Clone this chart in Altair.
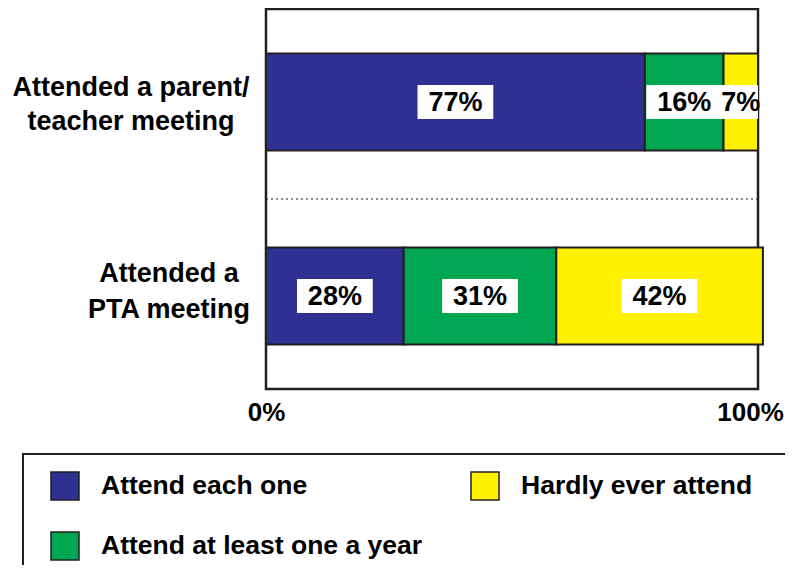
import altair as alt
import pandas as pd

# ---- data ----
questions = ["Attended a parent/\nteacher meeting", "Attended a\nPTA meeting"]
categories = ["Attend each one", "Attend at least one a year", "Hardly ever attend"]
parent_teacher = [77, 16, 7]
pta = [28, 31, 42]
ticks = [0, 100]
colors = {"Attend each one": "#2e3192",
          "Attend at least one a year": "#00a651",
          "Hardly ever attend": "#fff200"}

rows = []
for q, vals in zip(questions, [parent_teacher, pta]):
    for k, (c, v) in enumerate(zip(categories, vals)):
        rows.append({"q": q, "cat": c, "k": k, "v": v})
df = pd.DataFrame(rows)

W, H = 492, 380
FONT = "Liberation Sans"
INK = "#231f20"
HALF_BOX = 7.7  # half width of label boxes, in percent units

yenc = alt.Y("q:N", sort=questions, axis=None,
             scale=alt.Scale(paddingInner=0.5, paddingOuter=0.23))

base = alt.Chart(df).transform_stack(
    stack="v", groupby=["q"], as_=["x0", "x1"], sort=[alt.SortField("k")]
).transform_calculate(
    mid="(datum.x0 + datum.x1) / 2",
    b0="(datum.x0 + datum.x1) / 2 - %f" % HALF_BOX,
    b1="(datum.x0 + datum.x1) / 2 + %f" % HALF_BOX,
    lab="datum.v + '%'",
)

xscale = alt.Scale(domain=[0, 100], nice=False, zero=True)

bars = base.mark_bar(stroke=INK, strokeWidth=2).encode(
    x=alt.X("x0:Q", scale=xscale,
            axis=alt.Axis(values=ticks, labelExpr="datum.value + '%'", title=None,
                          ticks=False, domain=False, grid=False, labelFlush=False,
                          labelAlign="center",
                          labelOffset={"condition": {"test": "datum.value == 100", "value": -8},
                                       "value": 0},
                          labelFont=FONT, labelFontSize=26, labelFontWeight="bold",
                          labelColor="black", labelPadding=10)),
    x2="x1:Q",
    y=yenc,
    color=alt.Color("cat:N",
                    scale=alt.Scale(domain=categories,
                                    range=[colors[c] for c in categories]),
                    legend=alt.Legend(title=None, orient="none", legendX=-216, legendY=462,
                                      columns=2, columnPadding=45, rowPadding=26,
                                      symbolType="square", symbolSize=784,
                                      symbolStrokeColor=INK, symbolStrokeWidth=1.5,
                                      symbolOpacity=1, labelOffset=21,
                                      labelFont=FONT, labelFontSize=26.5,
                                      labelFontWeight="bold", labelColor="black",
                                      labelLimit=400, padding=0)),
    order=alt.Order("k:Q"),
)

boxes = base.mark_bar(color="white", size=34, clip=True).encode(
    x="b0:Q", x2="b1:Q", y=yenc
)

labels = base.mark_text(font=FONT, fontSize=27, fontWeight="bold", color="black",
                        baseline="middle", dy=1).encode(
    x="mid:Q", y=yenc, text="lab:N"
)

qdf = pd.DataFrame({"q": questions})
qlab1 = alt.Chart(qdf).transform_filter(
    alt.datum.q == questions[0]
).mark_text(font=FONT, fontSize=27, fontWeight="bold", color="black",
            align="center", baseline="middle", lineBreak="\n", lineHeight=34,
            dy=-14).encode(
    x=alt.value(-135), y=yenc, text="q:N")
qlab2 = alt.Chart(qdf).transform_filter(
    alt.datum.q == questions[1]
).mark_text(font=FONT, fontSize=27, fontWeight="bold", color="black",
            align="center", baseline="middle", lineBreak="\n", lineHeight=36,
            dy=-22).encode(
    x=alt.value(-97), y=yenc, text="q:N")

one = pd.DataFrame({"a": [0]})
divider = alt.Chart(one).mark_rule(color=INK, strokeWidth=1.2, strokeDash=[2, 3]).encode(
    x=alt.value(0), x2=alt.value(W), y=alt.value(H / 2))

legend_box = alt.Chart(one).mark_rect(fill="white", stroke=INK, strokeWidth=2).encode(
    x=alt.value(-243), x2=alt.value(700), y=alt.value(445), y2=alt.value(700))

chart = alt.layer(legend_box, bars, boxes, labels, divider, qlab1, qlab2).properties(
    width=W, height=H,
    autosize=alt.AutoSizeParams(type="none"),
    padding={"left": 258, "top": 1, "right": 27, "bottom": 176},
).configure_view(stroke=INK, strokeWidth=2.5)

chart.save("out.html", embed_options={"renderer": "svg", "actions": False})
